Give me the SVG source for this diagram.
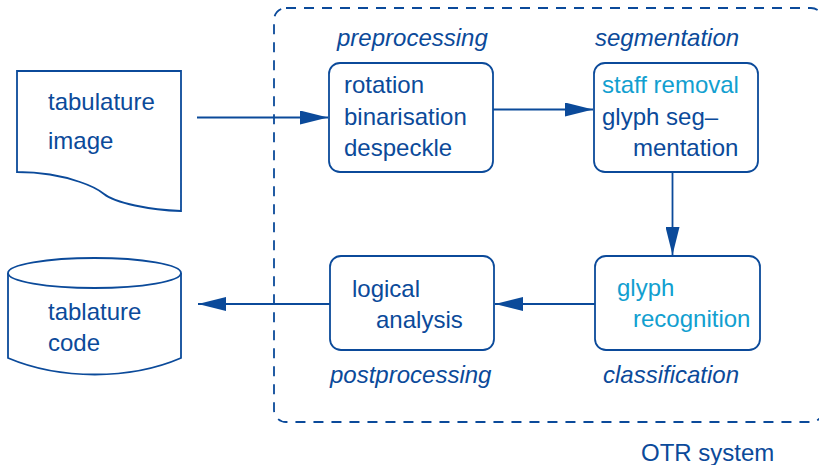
<svg xmlns="http://www.w3.org/2000/svg" width="819" height="465" viewBox="0 0 819 465">
<defs>
<style>
.ln{fill:none;stroke:#0b4a9a;stroke-width:1.8}
.bx{fill:#fff;stroke:#0b4a9a;stroke-width:1.8}
.t{font-family:"Liberation Sans",Arial,sans-serif;font-size:24px;fill:#0b4a9a}
.c{fill:#129fd0}
.i{font-style:italic}
</style>
<marker id="ah" markerWidth="28" markerHeight="14" refX="28" refY="7" orient="auto" markerUnits="userSpaceOnUse">
<path d="M0,0 L28,7 L0,14 Z" fill="#0b4a9a"/>
</marker>
</defs>
<rect width="819" height="465" fill="#fff"/>
<g id="system">
<rect x="274" y="8" width="549" height="414" rx="12" class="ln" stroke-dasharray="10 8"/>
<text class="t" x="641" y="461">OTR system</text>
</g>
<g id="connectors">
<line x1="197" y1="117.5" x2="328" y2="117.5" class="ln" marker-end="url(#ah)"/>
<line x1="493" y1="109.5" x2="593" y2="109.5" class="ln" marker-end="url(#ah)"/>
<line x1="672.5" y1="172" x2="672.5" y2="255" class="ln" marker-end="url(#ah)"/>
<line x1="595" y1="304" x2="495" y2="304" class="ln" marker-end="url(#ah)"/>
<line x1="330" y1="304" x2="198" y2="304" class="ln" marker-end="url(#ah)"/>
</g>
<g id="input">
<path d="M17,71 H181 V211 C150,210 115,203 104,194 C98,189 92,186 80,182 C60,175 35,172 17,172 Z" class="bx"/>
<text class="t" x="48" y="110">tabulature</text>
<text class="t" x="48" y="149">image</text>
</g>
<g id="preprocessing">
<text class="t i" x="337" y="46">preprocessing</text>
<rect x="329" y="63" width="164" height="109" rx="11" class="bx"/>
<text class="t" x="344" y="93">rotation</text>
<text class="t" x="344" y="124.5">binarisation</text>
<text class="t" x="344" y="156">despeckle</text>
</g>
<g id="segmentation">
<text class="t i" x="595" y="46">segmentation</text>
<rect x="594" y="63" width="164" height="109" rx="11" class="bx"/>
<text class="t c" x="602" y="93">staff removal</text>
<text class="t" x="602" y="124.5">glyph seg–</text>
<text class="t" x="633" y="156">mentation</text>
</g>
<g id="classification">
<rect x="595" y="256" width="165" height="94" rx="11" class="bx"/>
<text class="t c" x="617" y="295.5">glyph</text>
<text class="t c" x="633" y="327">recognition</text>
<text class="t i" x="603" y="383">classification</text>
</g>
<g id="postprocessing">
<rect x="330" y="256" width="164" height="94" rx="11" class="bx"/>
<text class="t" x="352" y="297">logical</text>
<text class="t" x="376" y="327.5">analysis</text>
<text class="t i" x="330" y="383">postprocessing</text>
</g>
<g id="output">
<path d="M8,273 V358 C60,380 130,380 181,358 V273" class="bx"/>
<ellipse cx="94.5" cy="273" rx="86.5" ry="15" class="bx"/>
<text class="t" x="48" y="320">tablature</text>
<text class="t" x="48" y="351">code</text>
</g>
</svg>
